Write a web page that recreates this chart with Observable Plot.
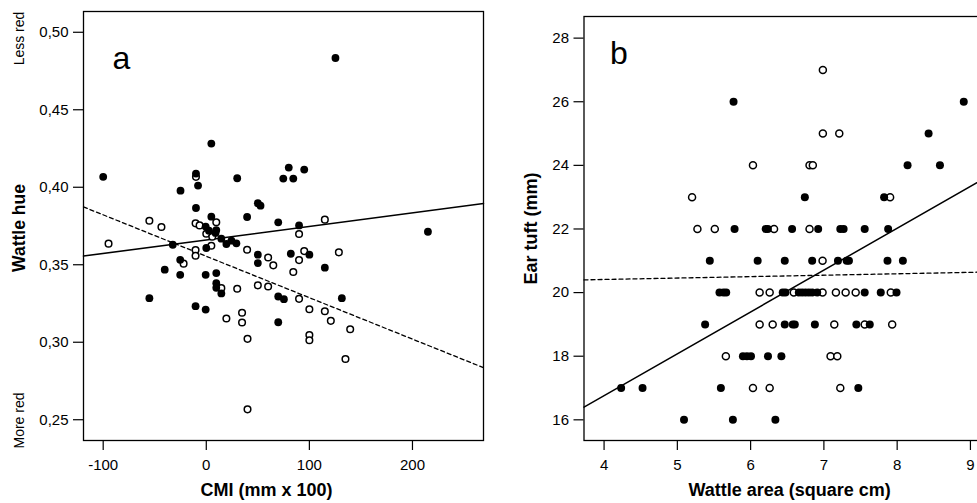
<!DOCTYPE html>
<html><head><meta charset="utf-8">
<script src="https://cdn.jsdelivr.net/npm/d3@7"></script>
<script src="https://cdn.jsdelivr.net/npm/@observablehq/plot@0.6"></script>
<style>
html,body{margin:0;padding:0;background:#fff;overflow:hidden;}
#wrap{position:relative;width:977px;height:503px;overflow:hidden;background:#fff;}
#wrap svg{position:absolute;top:0;max-width:none;}
</style></head><body><div id="wrap"></div>
<script>
// ---------- Panel a: CMI vs wattle hue ----------
const cmiFilled = [-100,125.3,4.9,-10,-8,-25,30,80,95,74.7,84.4,-10,50,52.6,39.6,4.9,-0.6,2.6,9.7,9,14.6,19.5,24.4,29.2,-32.5,0,69.8,90,215,50,50,82,100,-25.3,-40.3,-25.3,-0.6,9.7,115,-55.2,-10.4,-0.6,9.7,9.7,14.6,69.8,75.3,131.5,69.8];
const hueFilled = [0.4067,0.4834,0.4282,0.4088,0.4011,0.3978,0.4058,0.4127,0.4114,0.4056,0.4056,0.3866,0.3897,0.3881,0.3808,0.3810,0.3746,0.3720,0.3724,0.3705,0.3668,0.3634,0.3655,0.3638,0.3629,0.3608,0.3774,0.3754,0.3713,0.3565,0.3511,0.3571,0.3565,0.3532,0.3468,0.3435,0.3435,0.3446,0.3481,0.3284,0.3233,0.3211,0.3381,0.3351,0.3315,0.3295,0.3278,0.3284,0.3129];
const cmiOpen = [-94.8,-55.2,-43.5,-10.4,-6.5,9.7,0,5.8,4.9,-10.4,-10.4,-22,39.6,60,65,14.6,30,50,60,19.5,34.7,34.7,40,40,115,90,95,90,84.4,128.6,90,100,115,120.8,100,100,139.6,135,-10];
const hueOpen = [0.3636,0.3784,0.3744,0.3767,0.3754,0.3774,0.3700,0.3681,0.3623,0.3595,0.3558,0.3507,0.3597,0.3547,0.3496,0.3349,0.3345,0.3367,0.3360,0.3153,0.3190,0.3127,0.3022,0.2567,0.3791,0.3698,0.3588,0.3530,0.3453,0.3580,0.3280,0.3213,0.3200,0.3138,0.3047,0.3013,0.3084,0.2892,0.4067];
const cmiFitX = [-119.1, 268.9];
const hueFitSolid = [0.3556, 0.3895];
const hueFitDashed = [0.3873, 0.2836];
const cmiTicks = [-100, 0, 100, 200];
const hueTicks = [0.25, 0.30, 0.35, 0.40, 0.45, 0.50];

// ---------- Panel b: wattle area vs ear tuft ----------
const wattleFilled = [5.767,8.909, 8.429, 8.142,8.584, 6.740,7.822,
  5.781,6.205,6.235,6.566,6.922,7.224,7.269,7.557,7.877,
  5.443,6.096,6.466,6.840,7.192,7.311,7.342,7.868,8.078,
  5.575,5.630,5.667,6.438,6.475,6.658,6.703,6.749,6.795,6.840,6.909,7.557,7.776,7.991,
  5.379,6.466,6.575,6.603,6.877,7.443,7.626,
  5.895,5.950,6.005,6.237,6.420,
  4.233,4.525,5.594,7.470,
  5.091,5.758,6.338];
const tuftFilled = [26,26, 25, 24,24, 23,23,
  22,22,22,22,22,22,22,22,22,
  21,21,21,21,21,21,21,21,21,
  20,20,20,20,20,20,20,20,20,20,20,20,20,20,
  19,19,19,19,19,19,19,
  18,18,18,18,18,
  17,17,17,17,
  16,16,16];
const wattleOpen = [6.986, 6.986,7.210, 6.032,6.804,6.849, 5.201,7.904,
  5.274,5.511,6.320,6.804, 6.982,
  6.123,6.260,6.589,6.982,7.164,7.297,7.434,7.913,
  6.123,6.301,7.142,7.557,7.932,
  5.662,7.091,7.183,
  6.032,6.260,7.224];
const tuftOpen = [27, 25,25, 24,24,24, 23,23,
  22,22,22,22, 21,
  20,20,20,20,20,20,20,20,
  19,19,19,19,19,
  18,18,18,
  17,17,17];
const wattleFitX = [3.726, 9.192];
const tuftFitSolid = [16.40, 23.59];
const tuftFitDashed = [20.40, 20.645];
const wattleTicks = [4, 5, 6, 7, 8, 9];
const tuftTicks = [16, 18, 20, 22, 24, 26, 28];

const font = "'Liberation Sans', Arial, Helvetica, sans-serif";
const pts = (xs, ys) => xs.map((x, i) => ({x, y: ys[i]}));
const lbl = (t, o) => Plot.text([t], Object.assign({fill: "#000", fontFamily: font, textAnchor: "middle", lineAnchor: "middle"}, o));

const plotA = Plot.plot({
  width: 490, height: 503,
  marginLeft: 83, marginRight: 7, marginTop: 11, marginBottom: 63,
  style: {fontFamily: font, fontSize: "15px", color: "#000", background: "#fff", overflow: "visible"},
  x: {domain: [-119.1, 268.9]},
  y: {domain: [0.2366, 0.5134]},
  marks: [
    Plot.axisX({ticks: cmiTicks, tickSize: 10, tickPadding: 9, label: null, fontSize: 15, strokeWidth: 1.2,
      tickFormat: d => String(d)}),
    Plot.axisY({ticks: hueTicks, tickSize: 10, tickPadding: 5, label: null, fontSize: 15, strokeWidth: 1.2,
      tickFormat: d => d3.format(".2f")(d).replace(".", ",")}),
    Plot.line(pts(cmiFitX, hueFitSolid), {x: "x", y: "y", stroke: "#000", strokeWidth: 1.5}),
    Plot.line(pts(cmiFitX, hueFitDashed), {x: "x", y: "y", stroke: "#000", strokeWidth: 1.3, strokeDasharray: "4,3"}),
    Plot.dot(pts(cmiOpen, hueOpen), {x: "x", y: "y", r: 3.3, fill: "#fff", stroke: "#000", strokeWidth: 1.5}),
    Plot.dot(pts(cmiFilled, hueFilled), {x: "x", y: "y", r: 3.9, fill: "#000", stroke: "none"}),
    Plot.frame({stroke: "#000", strokeWidth: 1.3}),
    lbl("a", {frameAnchor: "top-left", dx: 29, dy: 47, fontSize: 32, textAnchor: "start"}),
    lbl("Wattle hue", {frameAnchor: "left", dx: -64, dy: 2, rotate: -90, fontSize: 17.5, fontWeight: "bold"}),
    lbl("Less red", {frameAnchor: "top-left", dx: -64, dy: 27, rotate: -90, fontSize: 14}),
    lbl("More red", {frameAnchor: "bottom-left", dx: -64, dy: -20, rotate: -90, fontSize: 14}),
    lbl("CMI (mm x 100)", {frameAnchor: "bottom", dx: -17, dy: 50, fontSize: 18, fontWeight: "bold"})
  ]
});
plotA.style.left = "0px";

const plotB = Plot.plot({
  width: 500, height: 503,
  marginLeft: 93.5, marginRight: 6, marginTop: 16, marginBottom: 63,
  style: {fontFamily: font, fontSize: "15px", color: "#000", background: "#fff", overflow: "visible"},
  x: {domain: [3.726, 9.192]},
  y: {domain: [15.35, 28.68]},
  marks: [
    Plot.axisX({ticks: wattleTicks, tickSize: 10, tickPadding: 9, label: null, fontSize: 15, strokeWidth: 1.2,
      tickFormat: d3.format("d")}),
    Plot.axisY({ticks: tuftTicks, tickSize: 10, tickPadding: 5, label: null, fontSize: 15, strokeWidth: 1.2,
      tickFormat: d3.format("d")}),
    Plot.line(pts(wattleFitX, tuftFitSolid), {x: "x", y: "y", stroke: "#000", strokeWidth: 1.5}),
    Plot.line(pts(wattleFitX, tuftFitDashed), {x: "x", y: "y", stroke: "#000", strokeWidth: 1.3, strokeDasharray: "4,3"}),
    Plot.dot(pts(wattleOpen, tuftOpen), {x: "x", y: "y", r: 3.5, fill: "#fff", stroke: "#000", strokeWidth: 1.5}),
    Plot.dot(pts(wattleFilled, tuftFilled), {x: "x", y: "y", r: 4, fill: "#000", stroke: "none"}),
    Plot.frame({stroke: "#000", strokeWidth: 1.3}),
    lbl("b", {frameAnchor: "top-left", dx: 26, dy: 37, fontSize: 32, textAnchor: "start"}),
    lbl("Ear tuft (mm)", {frameAnchor: "left", dx: -53, dy: 0, rotate: -90, fontSize: 18, fontWeight: "bold"}),
    lbl("Wattle area (square cm)", {frameAnchor: "bottom", dx: 5.4, dy: 50, fontSize: 18, fontWeight: "bold"})
  ]
});
plotB.style.left = "490px";

const wrap = document.getElementById("wrap");
wrap.appendChild(plotA);
wrap.appendChild(plotB);
</script>
</body></html>
